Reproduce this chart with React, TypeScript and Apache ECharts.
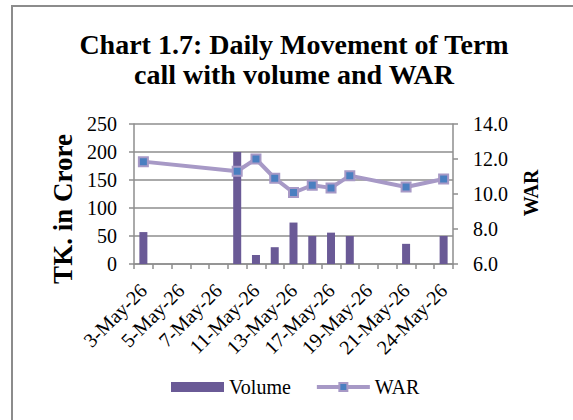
import React, { useEffect, useRef } from "react";
import * as echarts from "echarts";

const categories = [
  "3-May-26", "4-May-26", "5-May-26", "6-May-26", "7-May-26",
  "10-May-26", "11-May-26", "12-May-26", "13-May-26", "14-May-26",
  "17-May-26", "18-May-26", "19-May-26", "20-May-26", "21-May-26",
  "22-May-26", "24-May-26",
];
const volume = [57, null, null, null, null, 200, 16, 30, 74, 50, 56, 50, null, null, 36, null, 50];
const war = [11.85, null, null, null, null, 11.3, 12.0, 10.9, 10.08, 10.5, 10.35, 11.05, null, null, 10.4, null, 10.86];
const titleLines = ["Chart 1.7: Daily Movement of Term", "call with volume and WAR"];
const leftAxisName = "TK. in Crore";
const rightAxisName = "WAR";

const FONT = "Liberation Serif";
const GRID_COLOR = "#8e8e8e";
const LINE_COLOR = "#a799c6";
const MARKER_COLOR = "#4a7fc0";
const BAR_COLOR = "#6a5a96";

const CSS = `.chart-root svg text { font-family: "Liberation Serif", "Times New Roman", serif !important; }`;

export default function App() {
  const ref = useRef<HTMLDivElement>(null);
  useEffect(() => {
    if (!ref.current) return;
    const chart = echarts.init(ref.current, undefined, { renderer: "svg" });
    chart.setOption({
      animation: false,
      textStyle: { fontFamily: FONT },
      grid: { left: 134, right: 120, top: 124, bottom: 156 },
      legend: {
        data: [
          { name: "Volume", icon: "rect" },
          {
            name: "WAR",
            lineStyle: { color: LINE_COLOR, width: 4 },
            itemStyle: { color: MARKER_COLOR, borderColor: LINE_COLOR, borderWidth: 2 },
          },
        ],
        left: 171,
        top: 377,
        padding: 0,
        itemWidth: 53,
        itemHeight: 10,
        itemGap: 24,
        textStyle: { fontFamily: FONT, fontSize: 20, color: "#000" },
      },
      xAxis: {
        type: "category",
        data: categories,
        axisLine: { lineStyle: { color: GRID_COLOR, width: 1.5 } },
        axisTick: { show: true, interval: 0, length: 5, lineStyle: { color: GRID_COLOR, width: 1.5 } },
        axisLabel: { interval: 1, rotate: 45, margin: 23, fontFamily: FONT, fontSize: 20, color: "#000" },
      },
      yAxis: [
        {
          type: "value",
          min: 0,
          max: 250,
          interval: 50,
          axisLine: { show: true, lineStyle: { color: GRID_COLOR, width: 1.5 } },
          axisTick: { show: true, length: 5, lineStyle: { color: GRID_COLOR, width: 1.5 } },
          axisLabel: { margin: 17, fontFamily: FONT, fontSize: 20, color: "#000" },
          splitLine: { show: true, lineStyle: { color: GRID_COLOR, width: 1.5 } },
        },
        {
          type: "value",
          min: 6,
          max: 14,
          interval: 2,
          position: "right",
          axisLine: { show: true, lineStyle: { color: GRID_COLOR, width: 1.5 } },
          axisTick: { show: true, length: 5, lineStyle: { color: GRID_COLOR, width: 1.5 } },
          axisLabel: {
            margin: 20,
            fontFamily: FONT,
            fontSize: 20,
            color: "#000",
            formatter: (v: number) => v.toFixed(1),
          },
          splitLine: { show: false },
        },
      ],
      series: [
        {
          name: "Volume",
          type: "bar",
          data: volume,
          barWidth: 8,
          itemStyle: { color: BAR_COLOR },
        },
        {
          name: "WAR",
          type: "line",
          yAxisIndex: 1,
          data: war,
          connectNulls: true,
          symbol: "rect",
          symbolSize: 9,
          lineStyle: { color: LINE_COLOR, width: 4 },
          itemStyle: { color: MARKER_COLOR, borderColor: LINE_COLOR, borderWidth: 2 },
          z: 3,
        },
      ],
      graphic: [
        {
          type: "rect",
          shape: { x: 12, y: 6, width: 620, height: 520 },
          style: { fill: "none", stroke: "#8c8c8c", lineWidth: 2 },
          silent: true,
          z: -1,
        },
        {
          type: "text",
          x: 294,
          y: 44,
          style: {
            text: titleLines[0],
            fontFamily: FONT,
            fontWeight: "bold",
            fontSize: 28,
            fill: "#000",
            textAlign: "center",
            textVerticalAlign: "middle",
          },
        },
        {
          type: "text",
          x: 294,
          y: 74,
          style: {
            text: titleLines[1],
            fontFamily: FONT,
            fontWeight: "bold",
            fontSize: 28,
            fill: "#000",
            textAlign: "center",
            textVerticalAlign: "middle",
          },
        },
        {
          type: "text",
          x: 63,
          y: 209,
          rotation: Math.PI / 2,
          style: {
            text: leftAxisName,
            fontFamily: FONT,
            fontWeight: "bold",
            fontSize: 27,
            fill: "#000",
            textAlign: "center",
            textVerticalAlign: "middle",
          },
        },
        {
          type: "text",
          x: 531,
          y: 193,
          rotation: Math.PI / 2,
          style: {
            text: rightAxisName,
            fontFamily: FONT,
            fontWeight: "bold",
            fontSize: 20,
            fill: "#000",
            textAlign: "center",
            textVerticalAlign: "middle",
          },
        },
      ],
    });
    return () => chart.dispose();
  }, []);
  return (
    <div className="chart-root" style={{ position: "fixed", left: 0, top: 0, width: 573, height: 420, background: "#fff" }}>
      <style>{CSS}</style>
      <div ref={ref} style={{ width: 573, height: 420 }} />
    </div>
  );
}
